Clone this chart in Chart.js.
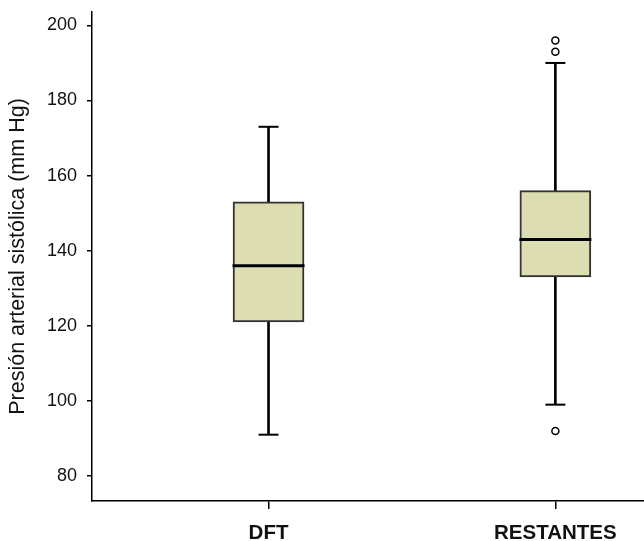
<!DOCTYPE html>
<html>
<head>
<meta charset="utf-8">
<script src="https://cdn.jsdelivr.net/npm/chart.js@4"></script>
<style>
  body { margin: 0; background: #fff; }
  canvas { display: block; }
</style>
</head>
<body>
<canvas id="chart" width="644" height="541"></canvas>
<script>
  // datos
  var categories = ["DFT", "RESTANTES"];
  var whiskerLow = [91, 99];
  var q1 = [121, 133];
  var median = [136, 143];
  var q3 = [153, 156];
  var whiskerHigh = [173, 190];
  var outliers = [[], [196, 193, 92]];
  var yTicks = [80, 100, 120, 140, 160, 180, 200];

  function pos(i) { return i + 1; }

  var boxes = [], whiskers = [], medians = [], caps = [], outPts = [];
  for (var i = 0; i < categories.length; i++) {
    boxes.push({ x: pos(i), y: [q1[i], q3[i]] });
    whiskers.push({ x: pos(i), y: [whiskerLow[i], whiskerHigh[i]] });
    medians.push({ x: pos(i), y: median[i] });
    caps.push({ x: pos(i), y: whiskerLow[i] });
    caps.push({ x: pos(i), y: whiskerHigh[i] });
    for (var j = 0; j < outliers[i].length; j++) {
      outPts.push({ x: pos(i), y: outliers[i][j] });
    }
  }

  var font = "Liberation Sans, Arial, sans-serif";
  var ctx = document.getElementById("chart").getContext("2d");
  var chart = new Chart(ctx, {
    type: "bar",
    data: {
      datasets: [{
        label: "mediana",
        type: "scatter",
        data: medians,
        pointStyle: "line",
        pointRadius: 36,
        borderColor: "#000",
        borderWidth: 3,
        order: 1
      }, {
        label: "caja",
        data: boxes,
        grouped: false,
        barThickness: 71,
        backgroundColor: "#dcdeb2",
        borderColor: "#333",
        borderWidth: 2,
        borderSkipped: false,
        order: 2
      }, {
        label: "bigotes",
        data: whiskers,
        grouped: false,
        barThickness: 2,
        backgroundColor: "#000",
        borderWidth: 0,
        order: 3
      }, {
        label: "extremos",
        type: "scatter",
        data: caps,
        pointStyle: "line",
        pointRadius: 10,
        borderColor: "#000",
        borderWidth: 2,
        order: 4
      }, {
        label: "atipicos",
        type: "scatter",
        data: outPts,
        pointStyle: "circle",
        pointRadius: 3.5,
        backgroundColor: "#fff",
        borderColor: "#000",
        borderWidth: 1.5,
        order: 0
      }]
    },
    options: {
      responsive: false,
      animation: false,
      events: [],
      layout: { autoPadding: false, padding: { top: 12, right: 0, left: 0, bottom: 0 } },
      plugins: {
        legend: { display: false },
        tooltip: { enabled: false }
      },
      scales: {
        x: {
          type: "linear",
          offset: false,
          min: 0.3846,
          max: 2.309,
          afterBuildTicks: function(scale) {
            scale.ticks = categories.map(function(c, i) { return { value: pos(i) }; });
          },
          afterFit: function(scale) {
            scale.height = 40;
            scale.paddingLeft = 0;
            scale.paddingRight = 0;
          },
          grid: { offset: false, drawOnChartArea: false, drawTicks: true, tickLength: 8, color: "#000", lineWidth: 1.5 },
          border: { color: "#000", width: 1.5 },
          ticks: {
            padding: 12,
            color: "#111",
            maxRotation: 0,
            font: { family: font, size: 20.5, weight: "bold" },
            callback: function(v) { return categories[v - 1]; }
          }
        },
        y: {
          min: 73.34,
          max: 203.57,
          afterBuildTicks: function(scale) {
            scale.ticks = yTicks.map(function(v) { return { value: v }; });
          },
          afterFit: function(scale) {
            scale.width = 92;
            scale.paddingTop = 0;
            scale.paddingBottom = 0;
          },
          grid: { drawOnChartArea: false, drawTicks: true, tickLength: 5, color: "#000", lineWidth: 1.5 },
          border: { color: "#000", width: 1.5 },
          ticks: {
            padding: 10,
            color: "#111",
            font: { family: font, size: 18 }
          },
          title: {
            display: true,
            text: "Presión arterial sistólica (mm Hg)",
            color: "#111",
            padding: { top: 5, bottom: 0 },
            font: { family: font, size: 21.5 }
          }
        }
      }
    }
  });
</script>
</body>
</html>
